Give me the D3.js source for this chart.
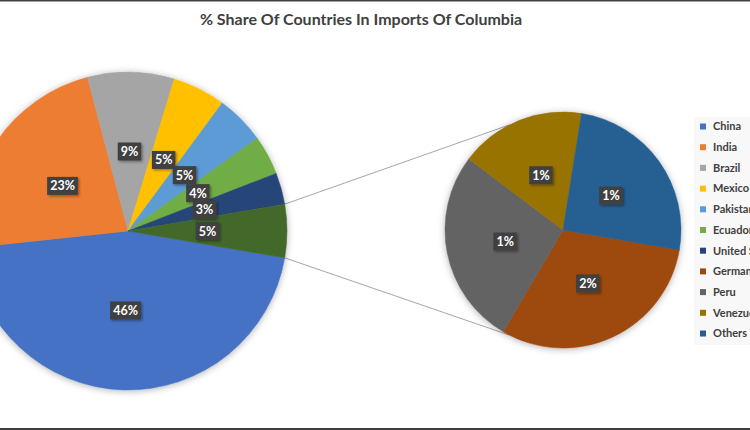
<!DOCTYPE html>
<html><head><meta charset="utf-8">
<script src="https://cdn.jsdelivr.net/npm/d3@7"></script>
<style>
html,body{margin:0;padding:0;background:#fff;overflow:hidden}
svg{display:block}
</style></head>
<body>
<svg id="chart" width="750" height="430"></svg>
<script>
// ---- data ----
const title = "% Share Of Countries In Imports Of Columbia";
const mainCategories = ["China","India","Brazil","Mexico","Pakistan","Ecuador","United States"];
const mainValues = [45.6, 22.6, 8.8, 5.4, 5.0, 4.0, 3.2];
const secondCategories = ["Germany","Peru","Venezuela","Others"];
const secondValues = [1.66, 1.45, 0.93, 1.36];
const mainColors = ["#4472C4","#ED7D31","#A5A5A5","#FFC000","#5B9BD5","#70AD47","#264478"];
const secondColors = ["#9E480E","#636363","#997300","#255E91"];
const otherColor = "#43682B";

const svg = d3.select("#chart");
const W = 750, H = 430;
const font = "Lato, 'Open Sans', sans-serif";

// frame lines
svg.append("rect").attr("x",0).attr("y",0).attr("width",W).attr("height",1.5).attr("fill","#404040");
svg.append("rect").attr("x",0).attr("y",428).attr("width",W).attr("height",2).attr("fill","#404040");

const defs = svg.append("defs");
const f = defs.append("filter").attr("id","pieShadow").attr("x","-20%").attr("y","-20%").attr("width","140%").attr("height","140%");
f.append("feDropShadow").attr("dx",0).attr("dy",1).attr("stdDeviation",3.5).attr("flood-color","#000").attr("flood-opacity",0.3);
const f2 = defs.append("filter").attr("id","lblShadow").attr("x","-30%").attr("y","-30%").attr("width","160%").attr("height","160%");
f2.append("feDropShadow").attr("dx",1.5).attr("dy",1.5).attr("stdDeviation",1.2).attr("flood-color","#000").attr("flood-opacity",0.35);

// title
svg.append("text").attr("x",361).attr("y",25).attr("text-anchor","middle")
  .attr("font-family",font).attr("font-weight",700).attr("font-size",16)
  .attr("fill","#404040").text(title);

const total = d3.sum(mainValues) + d3.sum(secondValues);
const otherValue = d3.sum(secondValues);
const startA = Math.PI/2 + (otherValue/total)*Math.PI;

const main = { cx:128, cy:231, r:159 };
const sec = { cx:563, cy:230, r:118 };

const mainData = mainCategories.map((c,i)=>({name:c, value:mainValues[i], color:mainColors[i]}))
  .concat([{name:"Other", value:otherValue, color:otherColor}]);
const secData = secondCategories.map((c,i)=>({name:c, value:secondValues[i], color:secondColors[i]}));

const pct = d3.format(".0%");

function drawPie(data, geo){
  const pie = d3.pie().value(d=>d.value).sort(null).startAngle(startA).endAngle(startA+2*Math.PI);
  const arcs = pie(data);
  const arc = d3.arc().innerRadius(0).outerRadius(geo.r);
  const g = svg.append("g").attr("transform",`translate(${geo.cx},${geo.cy})`);
  g.append("g").attr("filter","url(#pieShadow)")
    .selectAll("path").data(arcs).join("path")
    .attr("d",arc).attr("fill",d=>d.data.color).attr("stroke",d=>d.data.color).attr("stroke-width",0.5);
  const lblArc = d3.arc().innerRadius(geo.r/2).outerRadius(geo.r/2);
  const lg = g.append("g").selectAll("g").data(arcs).join("g")
    .attr("transform",d=>`translate(${lblArc.centroid(d)})`);
  const rects = lg.append("rect").attr("fill","#404040").attr("filter","url(#lblShadow)");
  const texts = lg.append("text").attr("text-anchor","middle").attr("dy","0.36em")
    .attr("font-family",font).attr("font-weight",700).attr("font-size",12.5).attr("fill","#fff")
    .text(d=>pct(d.data.value/total));
  texts.each(function(){
    const w = this.getComputedTextLength();
    d3.select(this.parentNode).select("rect")
      .attr("x",-w/2-3).attr("y",-9).attr("width",w+6).attr("height",18);
  });
  return arcs;
}

// connector lines (drawn first so pies sit above)
const connG = svg.append("g");
const mArcs = drawPie(mainData, main);
const sArcs = drawPie(secData, sec);
const o = mArcs[mArcs.length-1];
function pt(geo, a){ return [geo.cx + geo.r*Math.sin(a), geo.cy - geo.r*Math.cos(a)]; }
const off = 63*Math.PI/180;
const p1 = pt(main, o.startAngle), p2 = pt(main, o.endAngle);
const q1 = pt(sec, 1.5*Math.PI + off), q2 = pt(sec, 1.5*Math.PI - off);
connG.append("line").attr("x1",p1[0]).attr("y1",p1[1]).attr("x2",q1[0]).attr("y2",q1[1]).attr("stroke","#a6a6a6").attr("stroke-width",1);
connG.append("line").attr("x1",p2[0]).attr("y1",p2[1]).attr("x2",q2[0]).attr("y2",q2[1]).attr("stroke","#a6a6a6").attr("stroke-width",1);

// legend
const legendNames = mainCategories.concat(secondCategories);
const legendColors = mainColors.concat(secondColors);
const leg = svg.append("g");
leg.append("rect").attr("x",694).attr("y",117).attr("width",70).attr("height",228).attr("fill","#f8f8f8");
const li = leg.selectAll("g").data(legendNames).join("g")
  .attr("transform",(d,i)=>`translate(700,${126.5 + i*20.7})`);
li.append("rect").attr("x",0).attr("y",-3).attr("width",6).attr("height",6).attr("fill",(d,i)=>legendColors[i]);
li.append("text").attr("x",13).attr("dy","0.35em").attr("font-family",font).attr("font-weight",700)
  .attr("font-size",11).attr("fill","#404040").text(d=>d);
</script>
</body></html>
